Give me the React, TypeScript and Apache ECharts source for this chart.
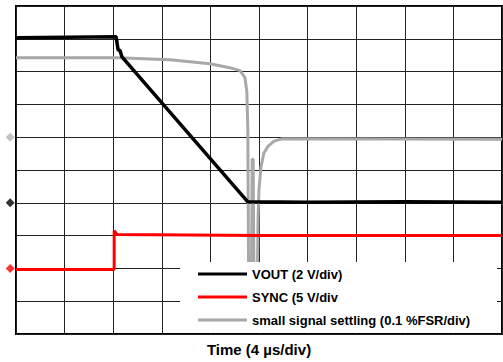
import React, { useEffect, useRef } from "react";
import * as echarts from "echarts";

// Oscilloscope divisions: x in [0,10] (4 µs/div), y in [0,10] divisions from bottom
const seriesNames = [
  "VOUT (2 V/div)",
  "SYNC (5 V/div",
  "small signal settling (0.1 %FSR/div)",
];

const voutData: [number, number][] = [
  [0, 9.03],
  [2.06, 9.06],
  [2.1, 8.67],
  [2.14, 8.64],
  [2.18, 8.45],
  [4.77, 4.03],
  [6.0, 4.02],
  [8.0, 4.03],
  [10, 4.02],
];

const syncData: [number, number][] = [
  [0, 1.97],
  [2.02, 1.97],
  [2.02, 3.15],
  [2.08, 3.03],
  [5.0, 3.0],
  [10, 3.0],
];

const settlingData: [number, number][] = [
  [0, 8.42],
  [2.1, 8.42],
  [3.17, 8.36],
  [3.99, 8.24],
  [4.4, 8.12],
  [4.61, 8.03],
  [4.71, 7.82],
  [4.75, 7.39],
  [4.77, 6.24],
  [4.79, 0.6],
  [4.84, 0.6],
  [4.86, 5.33],
  [4.88, 5.33],
  [4.9, 0.6],
  [4.96, 0.6],
  [4.98, 3.52],
  [5.0, 4.42],
  [5.04, 5.09],
  [5.1, 5.52],
  [5.19, 5.73],
  [5.31, 5.88],
  [5.47, 5.95],
  [10, 5.94],
];

// Channel reference (ground) markers on the left edge
const markerLevels = [6, 4, 2];
const markerColors = ["#b3b3b3", "#000000", "#ff0000"];
const markerX = -0.12;

const colors = ["#000000", "#ff0000", "#a8a8a8"];
const FONT = "'Liberation Sans', Arial, Helvetica, sans-serif";

export default function App() {
  const ref = useRef<HTMLDivElement>(null);
  useEffect(() => {
    if (!ref.current) return;
    const chart = echarts.init(ref.current, undefined, { renderer: "svg" });
    chart.setOption({
      animation: false,
      backgroundColor: "#ffffff",
      grid: {
        left: 16,
        top: 6,
        width: 486,
        height: 330,
        show: true,
        borderColor: "#000",
        borderWidth: 2,
        backgroundColor: "transparent",
      },
      xAxis: {
        type: "value",
        min: 0,
        max: 10,
        interval: 1,
        name: "Time (4 µs/div)",
        nameLocation: "middle",
        nameGap: 8,
        nameTextStyle: {
          fontFamily: FONT,
          fontWeight: "bold",
          fontSize: 15,
          color: "#000",
        },
        axisLine: { show: false },
        axisTick: { show: false },
        axisLabel: { show: false },
        splitLine: { show: true, lineStyle: { color: "#222", width: 1 } },
      },
      yAxis: {
        type: "value",
        min: 0,
        max: 10,
        interval: 1,
        axisLine: { show: false },
        axisTick: { show: false },
        axisLabel: { show: false },
        splitLine: { show: true, lineStyle: { color: "#222", width: 1 } },
      },
      legend: {
        data: seriesNames,
        orient: "vertical",
        left: 198,
        top: 267.5,
        padding: 0,
        itemGap: 10,
        itemWidth: 49,
        itemHeight: 3,
        icon: "rect",
        textStyle: {
          fontFamily: FONT,
          fontWeight: "bold",
          fontSize: 13,
          color: "#000",
        },
        selectedMode: false,
      },
      graphic: [
        {
          type: "rect",
          z: 3,
          shape: { x: 180, y: 262, width: 317, height: 71 },
          style: { fill: "#ffffff" },
          silent: true,
        },
      ],
      series: [
        {
          name: seriesNames[2],
          type: "line",
          data: settlingData,
          showSymbol: false,
          color: colors[2],
          lineStyle: { color: colors[2], width: 3 },
          z: 2,
        },
        {
          name: seriesNames[1],
          type: "line",
          data: syncData,
          showSymbol: false,
          color: colors[1],
          lineStyle: { color: colors[1], width: 3 },
          z: 2,
        },
        {
          name: seriesNames[0],
          type: "line",
          data: voutData,
          showSymbol: false,
          color: colors[0],
          lineStyle: { color: colors[0], width: 3.5 },
          z: 2,
        },
        {
          type: "scatter",
          clip: false,
          symbol: "diamond",
          symbolSize: 9,
          data: markerLevels.map((v, i) => ({
            value: [markerX, v],
            itemStyle: { color: markerColors[i] },
          })),
          z: 2,
        },
      ],
    });
    return () => chart.dispose();
  }, []);
  return <div ref={ref} style={{ width: 503, height: 362, position: "absolute", left: 0, top: 0 }} />;
}
